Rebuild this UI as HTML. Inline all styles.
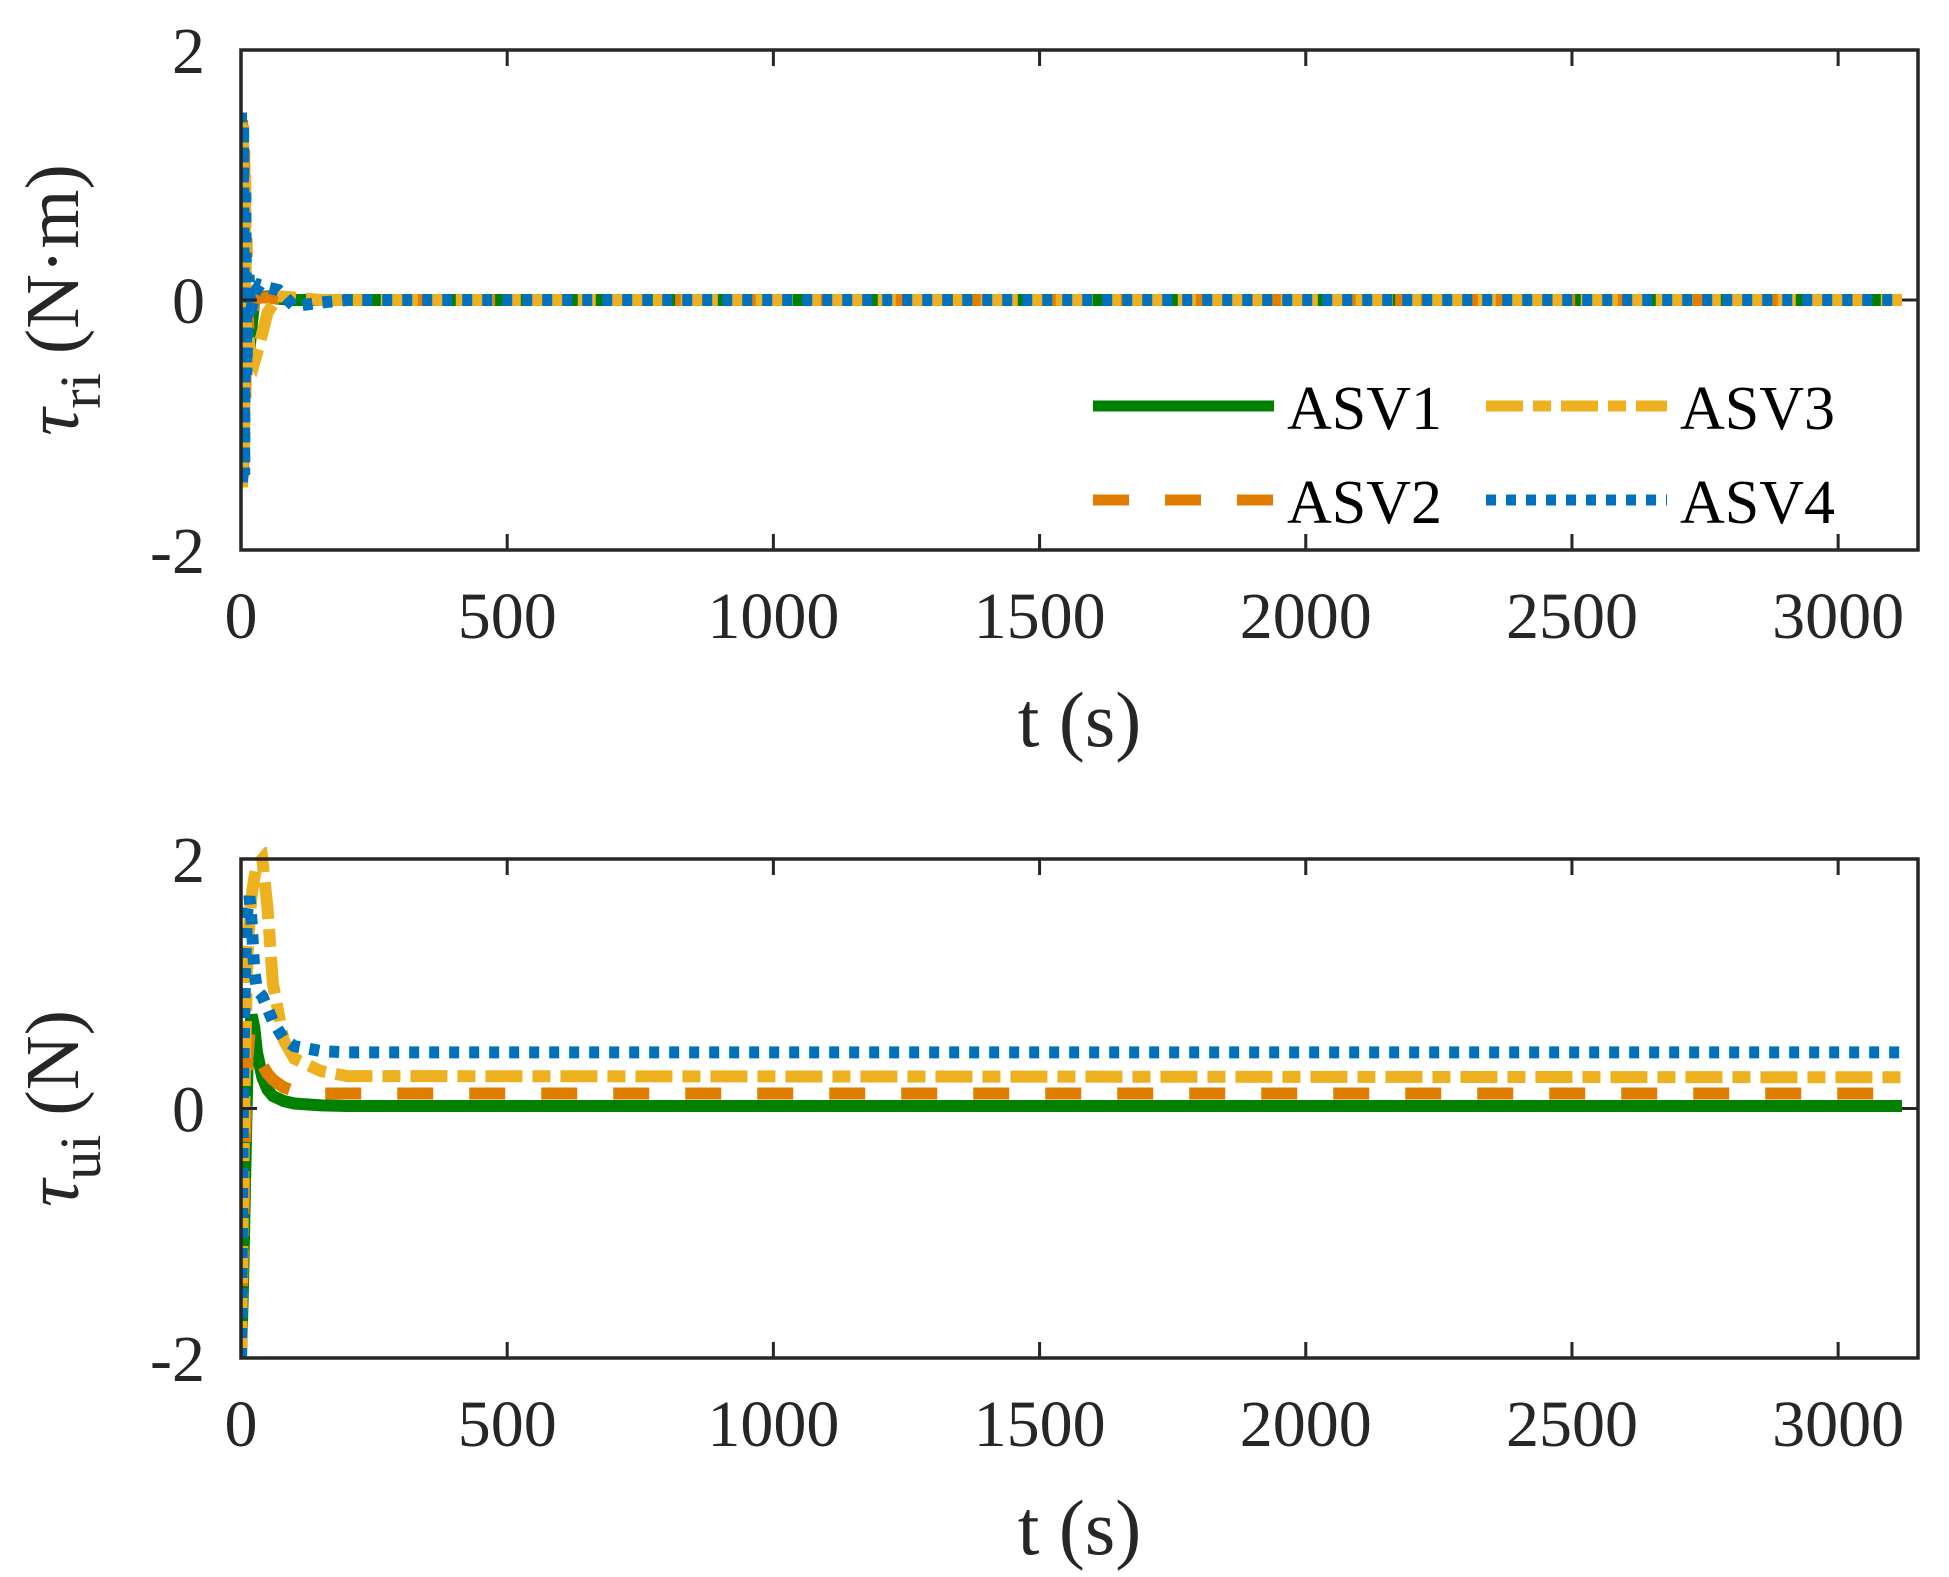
<!DOCTYPE html>
<html><head><meta charset="utf-8"><style>
html,body{margin:0;padding:0;background:#fff;}
svg{display:block;font-family:"Liberation Serif",serif;}
</style></head><body>
<svg id="chart" width="1949" height="1577" viewBox="0 0 1949 1577" xmlns="http://www.w3.org/2000/svg"></svg>
<script>
const xTicks=[0,500,1000,1500,2000,2500,3000];
const yTicks=[-2,0,2];
const seriesNames=["ASV1","ASV2","ASV3","ASV4"];
// top panel (tau_r)
const tTopA=[0,2,4,6,8,10,14,18,25,35,50,70,100,150,200,3120];
const topASV1=[0,1.3,-1.2,0.8,-0.6,-0.55,-0.5,-0.3,0,0.02,0.03,0.01,0,0,0,0];
const topASV2=[0,1.45,-1.45,1.2,-0.9,0.5,-0.3,-0.2,0,0.02,0.02,0.01,0,0,0,0];
const topASV3=[1.5,-1.5,1.4,-1.3,1.0,-0.6,-0.3,-0.45,-0.5,-0.35,-0.1,0.03,0.02,0,0,0];
const topASV4=[1.5,-1.5,1.4,-1.4,0.9,-0.6,0.2,-0.1,0.05,0.12,0.1,0.08,-0.05,-0.02,0,0];
// bottom panel (tau_u)
const tBot=[0,4,8,12,16,20,25,30,40,50,60,80,100,150,200,3120];
const botASV1=[-2,-1.4,-0.5,0.3,0.6,0.75,0.65,0.45,0.25,0.15,0.1,0.06,0.04,0.025,0.02,0.02];
const botASV2=[-2,-1.0,-0.2,0.4,0.6,0.55,0.5,0.45,0.35,0.28,0.23,0.17,0.14,0.12,0.12,0.12];
const botASV3=[-2,-0.6,0.5,1.2,1.5,1.7,1.85,1.95,2.0,1.6,1.0,0.55,0.4,0.3,0.26,0.25];
const botASV4=[-2,0.2,1.2,1.6,1.7,1.5,1.1,0.95,0.9,0.8,0.7,0.56,0.5,0.46,0.45,0.45];

const NS="http://www.w3.org/2000/svg";
const svg=document.getElementById('chart');
const colors=["#008000","#E07E00","#EDB120","#0072BD"];
const dashes=["none","36 36","37 10 18 10","10 10"];
function el(tag,attrs,parent){const e=document.createElementNS(NS,tag);for(const k in attrs)e.setAttribute(k,attrs[k]);(parent||svg).appendChild(e);return e;}
const X0=241,X1=1918,XMAX=3150;
function sx(t){return X0+(t/XMAX)*(X1-X0);}

function panel(name,top,bot,tArr,vals,labelSub,labelUnit){
  const g=el('g',{});
  
  
  const sy=v=>top+(2-v)/4*(bot-top);
  const clip=el('clipPath',{id:'clip-'+name},g);
  el('rect',{x:X0,y:top-12,width:X1-X0,height:bot-top+24},clip);
  vals.forEach((arr,i)=>{
    const pts=tArr.map((t,j)=>sx(t).toFixed(1)+','+sy(arr[j]).toFixed(1)).join(' ');
    const p=el('polyline',{points:pts,fill:'none',stroke:colors[i],'stroke-width':12,'stroke-dasharray':dashes[i],'clip-path':'url(#clip-'+name+')'},g);
    
    
  });
  const box=el('rect',{x:X0,y:top,width:X1-X0,height:bot-top,fill:'none',stroke:'#262626','stroke-width':3.5},g);
  
  
  xTicks.forEach(t=>{
    const x=sx(t);
    el('line',{x1:x,x2:x,y1:bot,y2:bot-16,stroke:'#262626','stroke-width':3},g);
    el('line',{x1:x,x2:x,y1:top,y2:top+16,stroke:'#262626','stroke-width':3},g);
    const tx=el('text',{x:x,y:bot+88,'text-anchor':'middle','font-size':66,fill:'#262626'},g);
    tx.textContent=t;
    
    
  });
  yTicks.forEach(v=>{
    const y=sy(v);
    el('line',{x1:X0,x2:X0+16,y1:y,y2:y,stroke:'#262626','stroke-width':3},g);
    el('line',{x1:X1,x2:X1-16,y1:y,y2:y,stroke:'#262626','stroke-width':3},g);
    const tx=el('text',{x:X0-36,y:y+23,'text-anchor':'end','font-size':66,fill:'#262626'},g);
    tx.textContent=v;
    
    
  });
  const xt=el('text',{x:(X0+X1)/2,y:bot+196,'text-anchor':'middle','font-size':78,fill:'#262626'},g);
  xt.textContent='t (s)';
  
  
  const cy=(top+bot)/2;
  const yt=el('text',{transform:'translate(78,'+cy+') rotate(-90)','text-anchor':'middle','font-size':76,fill:'#262626'},g);
  
  
  const a=el('tspan',{'font-style':'italic'},yt);a.textContent='τ';
  const b=el('tspan',{dy:22,'font-size':58},yt);b.textContent=labelSub;
  const c=el('tspan',{dy:-22},yt);c.textContent=' '+labelUnit;
}
panel('top-panel',50,550,tTopA,[topASV1,topASV2,topASV3,topASV4],'ri','(N·m)');
panel('bottom-panel',859,1358,tBot,[botASV1,botASV2,botASV3,botASV4],'ui','(N)');

// legend
const leg=el('g',{});


const legPos=[[1093,406],[1093,500],[1486,406],[1486,500]];
seriesNames.forEach((n,i)=>{
  const [lx,ly]=legPos[i];
  const ln=el('line',{x1:lx,x2:lx+181,y1:ly,y2:ly,stroke:colors[i],'stroke-width':11,'stroke-dasharray':dashes[i]},leg);
  
  
  const tx=el('text',{x:lx+194,y:ly+23,'font-size':62,fill:'#000'},leg);
  tx.textContent=n;
  
  
});
</script>
</body></html>
